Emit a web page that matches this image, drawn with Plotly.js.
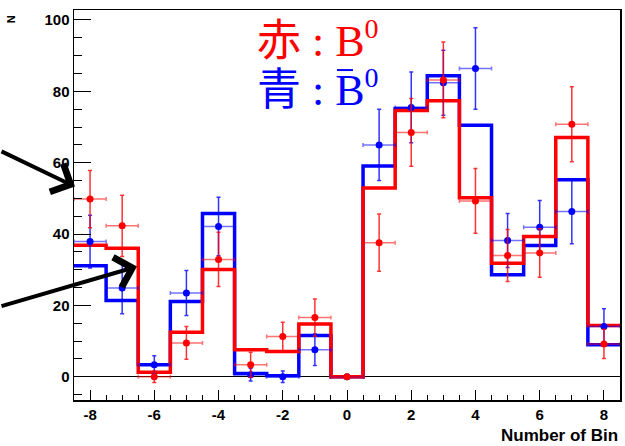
<!DOCTYPE html>
<html>
<head>
<meta charset="utf-8">
<script src="https://cdn.plot.ly/plotly-3.0.1.min.js"></script>
<style>html,body{margin:0;padding:0;background:#fff}#chart{width:625px;height:446px}</style>
</head>
<body>
<div id="chart"></div>
<script>
// Bin centres
const bins = [-8,-7,-6,-5,-4,-3,-2,-1,0,1,2,3,4,5,6,7,8];
// Histogram (fit/expected) contents per bin
const redHist  = [36.9,36.0,1.3,12.5,30.1,7.6,7.1,14.8,0,52.9,74.6,77.4,50.2,31.8,39.3,67.1,14.4];
const blueHist = [31.1,21.4,3.4,21.1,45.8,0.9,0.3,11.6,0,59.1,75.2,84.4,70.5,28.6,36.8,55.2,9.0];
// Data points and errors
const redPts   = [49.8,42.3,0,9.5,32.9,3.4,11.3,16.6,0,37.6,68.5,83.2,49.3,34.0,34.7,70.8,9.2];
const redErr   = [8.0,8.6,1.6,4.6,7.6,3.5,4.0,5.2,0,8.0,9.5,10.6,9.1,7.3,6.8,10.5,4.1];
const bluePts  = [37.9,24.9,3.4,23.5,42.1,0.6,0,7.6,0,65.0,75.5,82.4,86.4,38.2,41.9,46.3,14.1];
const blueErr  = [7.4,7.2,2.5,6.3,8.2,1.8,1.6,4.4,0,10.0,9.9,9.1,11.4,7.6,7.5,9.0,5.0];
const xTicks = [-8,-6,-4,-2,0,2,4,6,8];
const yTicks = [0,20,40,60,80,100];

function edges(c){ const e = c.map(v=>v-0.5); e.push(c[c.length-1]+0.5); return e; }
function stepY(v){ const s = v.slice(); s.push(v[v.length-1]); return s; }
const halfW = bins.map(()=>0.5);

const traces = [
  {x: edges(bins), y: stepY(blueHist), type:'scatter', mode:'lines', line:{shape:'hv', color:'#0000ff', width:3.5}, hoverinfo:'skip'},
  {x: edges(bins), y: stepY(redHist), type:'scatter', mode:'lines', line:{shape:'hv', color:'#ff0000', width:3.5}, hoverinfo:'skip'},
  {x: bins, y: bluePts, type:'scatter', mode:'markers', marker:{color:'#0000ff', size:7},
   error_y:{type:'data', array:blueErr, color:'rgba(0,0,255,0.8)', thickness:1.5, width:2},
   error_x:{type:'data', array:halfW, color:'rgba(0,0,255,0.55)', thickness:1.5, width:2}},
  {x: bins, y: redPts, type:'scatter', mode:'markers', marker:{color:'#ff0000', size:7},
   error_y:{type:'data', array:redErr, color:'rgba(255,0,0,0.8)', thickness:1.5, width:2},
   error_x:{type:'data', array:halfW, color:'rgba(255,0,0,0.55)', thickness:1.5, width:2}}
];

const tickFont = {family:'Liberation Sans, Arial, sans-serif', size:15, color:'#000'};
const NB = '\u00a0';
const layout = {
  width:625, height:446,
  margin:{l:74, r:5, t:10, b:46},
  paper_bgcolor:'#fff', plot_bgcolor:'#fff',
  showlegend:false,
  xaxis:{range:[-8.5,8.5], tickvals:xTicks, ticktext:xTicks.map(v=>'<b>'+v+'</b>'), ticks:'inside', ticklen:10, tickwidth:1, tickcolor:'#000',
         minor:{dtick:0.5, tick0:0, ticks:'inside', ticklen:5, tickwidth:1, tickcolor:'#000'},
         showgrid:false, zeroline:false, showline:true, mirror:true, linecolor:'#000', linewidth:1.5, tickfont:tickFont},
  yaxis:{range:[-6.5,102.8], tickvals:yTicks, ticktext:yTicks.map(v=>'<b>'+v+'</b>'), ticks:'inside', ticklen:17, tickwidth:1, tickcolor:'#000',
         minor:{dtick:5, tick0:0, ticks:'inside', ticklen:8, tickwidth:1, tickcolor:'#000'},
         showgrid:false, zeroline:true, zerolinecolor:'#000', zerolinewidth:1,
         showline:true, mirror:true, linecolor:'#000', linewidth:1.5, tickfont:tickFont},
  shapes:[
    {type:'line', xref:'paper', yref:'paper', x0:0.4817, x1:0.511, y0:0.846, y1:0.846, line:{color:'#0000ff', width:2}}
  ],
  annotations:[
    {xref:'x', yref:'y', x:-8.47, y:53.3, ax:-88, ay:-36, text:'', showarrow:true, arrowhead:4, arrowsize:1.5, arrowwidth:4, arrowcolor:'#000', standoff:0},
    {xref:'x', yref:'y', x:-6.54, y:30.9, ax:-147, ay:40, text:'', showarrow:true, arrowhead:4, arrowsize:1.5, arrowwidth:4, arrowcolor:'#000', standoff:0},
    {xref:'paper', yref:'paper', x:0.3315, y:0.931, xanchor:'left', yanchor:'middle', showarrow:false,
     text:'<span style="font-family:Noto Sans CJK JP">赤</span>'+NB+':'+NB+'B<sup><span style="font-size:28px">0</span></sup>',
     font:{family:'Liberation Serif, serif', size:44, color:'#ff0000'}},
    {xref:'paper', yref:'paper', x:0.3315, y:0.805, xanchor:'left', yanchor:'middle', showarrow:false,
     text:'<span style="font-family:Noto Sans CJK JP">青</span>'+NB+':'+NB+'B<sup><span style="font-size:28px">0</span></sup>',
     font:{family:'Liberation Serif, serif', size:44, color:'#0000ff'}},
    {xref:'paper', yref:'paper', x:-0.115, y:0.977, xanchor:'center', yanchor:'middle', showarrow:false, textangle:-90,
     text:'<b>N</b>', font:{family:'Liberation Sans, Arial, sans-serif', size:11, color:'#000'}},
    {xref:'paper', yref:'paper', x:1.0, y:-0.09, xanchor:'right', yanchor:'middle', showarrow:false,
     text:'<b>Number of Bin</b>', font:{family:'Liberation Sans, Arial, sans-serif', size:17, color:'#000'}}
  ]
};
Plotly.newPlot('chart', traces, layout, {staticPlot:true, displayModeBar:false});
</script>
</body>
</html>
